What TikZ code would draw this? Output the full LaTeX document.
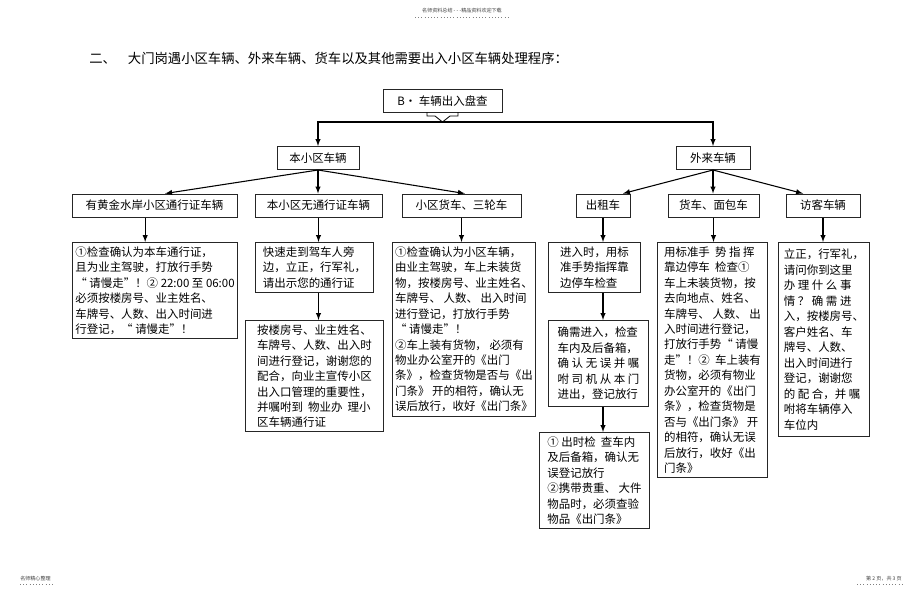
\documentclass[tikz,border=0pt]{standalone}
\usepackage{fontspec}
\setmainfont{Noto Sans CJK SC}
\begin{document}
\begin{tikzpicture}[x=0.75pt, y=-0.75pt, >=latex,
    box/.style={draw=black!85, line width=0.75pt, align=left, inner xsep=2pt, inner ysep=3pt,
      anchor=north west, font=\fontsize{8.6}{11.6}\selectfont},
    cat/.style={box, anchor=center, align=center, minimum height=17.25pt, inner sep=1pt},
    arr/.style={->, line width=0.8pt},
    tiny/.style={font=\fontsize{3.8}{4.5}\selectfont, text=black!75, inner sep=0pt}]
    \useasboundingbox (0,0) rectangle (920,593);

    \node[tiny] (hd) at (462,11) {名师资料总结 - - -精品资料欢迎下载};
    \node[tiny, anchor=west] (fl) at (20,579) {名师精心整理};
    \node[tiny, anchor=east] (fr) at (902,579) {第 2 页，共 3 页};
    \draw[black!50, dotted] (415,17) -- (510,17);
    \draw[black!50, dotted] (20,584) -- (55,584);
    \draw[black!50, dotted] (857,584) -- (902,584);

    \node[anchor=west, inner sep=0pt, font=\fontsize{10}{12}\selectfont] (ttl) at (89,58)
      {二、\hspace{0.9em}大门岗遇小区车辆、外来车辆、货车以及其他需要出入小区车辆处理程序：};

    \node[cat, minimum width=89.25pt] (B) at (442.5,101) {B·\ 车辆出入盘查};
    \draw[line width=0.6pt] (427,112) -- (427,116) -- (435,116) -- (442.5,122)
      -- (450,116) -- (458,116) -- (458,112);
    \coordinate (tip) at (442.5,122);

    \node[cat, minimum width=61.5pt] (loc) at (318,158) {本小区车辆};
    \node[cat, minimum width=55.5pt] (ext) at (713,158) {外来车辆};
    \draw[arr] (tip) -| (loc);
    \draw[arr] (tip) -| (ext);

    \node[cat, minimum width=123.75pt] (wa) at (154.5,205.5) {有黄金水岸小区通行证车辆};
    \node[cat, minimum width=95.25pt] (wb) at (318.5,205.5) {本小区无通行证车辆};
    \node[cat, minimum width=89.25pt] (wc) at (461.5,205.5) {小区货车、三轮车};
    \node[cat, minimum width=40.5pt] (wd) at (603,205.5) {出租车};
    \node[cat, minimum width=68.25pt] (we) at (713.5,205.5) {货车、面包车};
    \node[cat, minimum width=55.5pt] (wf) at (823,205.5) {访客车辆};

    \draw[arr] (loc.south) -- ([xshift=8pt]wa.north);
    \draw[arr] (loc.south) -- (loc.south |- wb.north);
    \draw[arr] (loc.south) -- ([xshift=2.5pt]wc.north);
    \draw[arr] (ext.south) -- ([xshift=15pt]wd.north);
    \draw[arr] (ext.south) -- (ext.south |- we.north);
    \draw[arr] (ext.south) -- ([xshift=-15pt]wf.north);

    \node[box, minimum width=123.75pt] (a1) at (72,242)
      {①检查确认为本车通行证，\\且为业主驾驶，打放行手势\\“ 请慢走”！② 22:00 至 06:00\\
       必须按楼房号、业主姓名、\\车牌号、人数、出入时间进\\行登记，“ 请慢走”！};

    \node[box, minimum width=88.5pt] (b1) at (255,242)
      {快速走到驾车人旁\\边，立正，行军礼，\\请出示您的通行证};
    \node[box, minimum width=103.5pt] (b2) at (245,320)
      {按楼房号、业主姓名、\\车牌号、人数、出入时\\间进行登记，谢谢您的\\配合，向业主宣传小区\\
       出入口管理的重要性，\\并嘱咐到 \ 物业办 \ 理小\\区车辆通行证};

    \node[box, minimum width=107.25pt] (c1) at (392,242)
      {①检查确认为小区车辆，\\由业主驾驶，车上未装货\\物，按楼房号、业主姓名、\\车牌号、 人数、 出入时间\\
       进行登记，打放行手势\\“ 请慢走”！\\②车上装有货物， 必须有\\物业办公室开的《出门\\
       条》，检查货物是否与《出\\门条》 开的相符，确认无\\误后放行，收好《出门条》};

    \node[box, minimum width=69pt] (d1) at (548,242)
      {进入时，用标\\准手势指挥靠\\边停车检查};
    \node[box, minimum width=75pt, inner ysep=5pt] (d2) at (548,320)
      {确需进入，检查\\车内及后备箱，\\确 认 无 误 并 嘱\\咐 司 机 从 本 门\\进出，登记放行};
    \node[box, minimum width=82.5pt] (d3) at (539,432)
      {① 出时检 \ 查车内\\及后备箱，确认无\\误登记放行\\②携带贵重、 大件\\物品时，必须查验\\物品《出门条》};

    \node[box, minimum width=82.5pt] (e1) at (657,242)
      {用标准手 \ 势 指 挥\\靠边停车 \ 检查①\\车上未装货物，按\\去向地点、姓名、\\车牌号、 人数、 出\\
       入时间进行登记，\\打放行手势“ 请慢\\走”！② \ 车上装有\\货物，必须有物业\\办公室开的《出门\\
       条》，检查货物是\\否与《出门条》 开\\的相符，确认无误\\后放行，收好《出\\门条》};

    \node[box, minimum width=68.25pt, inner ysep=5pt] (f1) at (778,242)
      {立正，行军礼，\\请问你到这里\\办 理 什 么 事\\情 ？ 确 需 进\\入，按楼房号、\\客户姓名、车\\
       牌号、人数、\\出入时间进行\\登记，谢谢您\\的 配 合，并 嘱\\咐将车辆停入\\车位内};

    \draw[arr] ([xshift=-7pt]wa.south) -- ([xshift=-7pt]wa.south |- a1.north);
    \draw[arr] (wb.south) -- (wb.south |- b1.north);
    \draw[arr] (b1.south -| wb.south) -- (wb.south |- b2.north);
    \draw[arr] (wc.south) -- (wc.south |- c1.north);
    \draw[arr] (wd.south) -- (wd.south |- d1.north);
    \draw[arr] (d1.south -| wd.south) -- (wd.south |- d2.north);
    \draw[arr] (d2.south -| wd.south) -- (wd.south |- d3.north);
    \draw[arr] (we.south) -- (we.south |- e1.north);
    \draw[arr] (wf.south) -- (wf.south |- f1.north);
  \end{tikzpicture}
\end{document}
